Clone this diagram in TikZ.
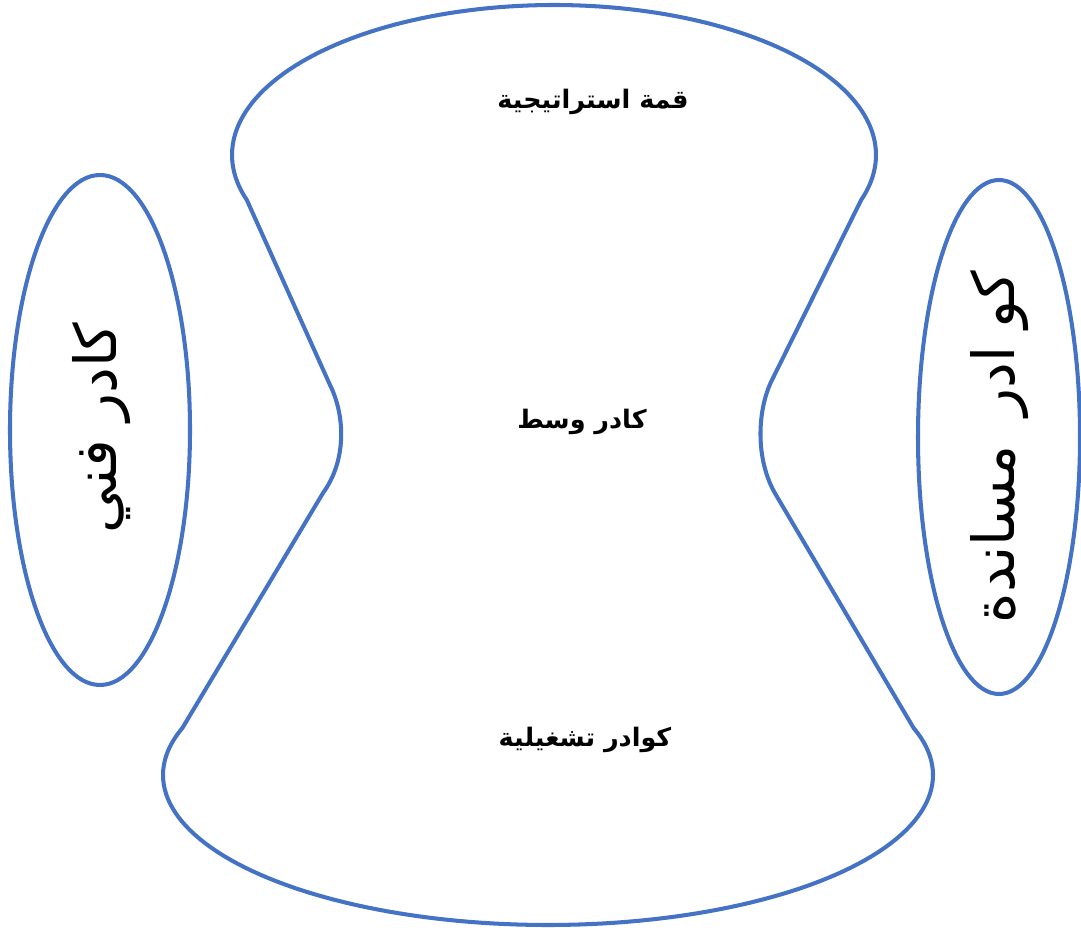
\documentclass[tikz,border=0pt]{standalone}
\usepackage{fontspec}
\TeXXeTstate=1
\newfontfamily\arabicfont[Script=Arabic]{DejaVu Sans}
\definecolor{shapeblue}{RGB}{68,114,196}
\tikzset{
  outline/.style={draw=shapeblue, line width=2.3pt, line join=round},
  midlabel/.style={font=\arabicfont\bfseries\fontsize{14.5}{17}\selectfont, inner sep=0pt},
  sidelabel/.style={font=\arabicfont\fontsize{33}{38}\selectfont, inner sep=0pt, rotate=90}
}
\begin{document}
\begin{tikzpicture}[x=0.02cm, y=-0.02cm]
\useasboundingbox (0,0) rectangle (1081,928);
% hourglass
\coordinate (tl) at (247,200);
\coordinate (tr) at (861,200);
\coordinate (ml1) at (330,385);
\coordinate (ml2) at (323,493);
\coordinate (mr1) at (772,380);
\coordinate (mr2) at (776,495);
\coordinate (bl) at (182,728);
\coordinate (br) at (914,728);
\draw[outline]
  plot[domain=162.54:377.46, samples=120] ({554+322*cos(\x)},{155+150*sin(\x)})
  -- (mr1) .. controls (757,410) and (755,460) .. (mr2)
  -- plot[domain=-18.26:198.26, samples=120] ({548+385*cos(\x)},{775+150*sin(\x)})
  -- (ml2) .. controls (347,460) and (345,415) .. (ml1)
  -- cycle;
% side ellipses
\draw[outline] (100,430) ellipse [x radius=90, y radius=255];
\draw[outline] (999,437) ellipse [x radius=81, y radius=257];
% labels
\node[midlabel] (top) at (593,102) {\beginR قمة استراتيجية\endR};
\node[midlabel] (mid) at (582,422) {\beginR كادر وسط\endR};
\node[midlabel] (bot) at (585,740) {\beginR كوادر تشغيلية\endR};
\node[sidelabel] (left) at (102,428) {\beginR كادر فني\endR};
\node[sidelabel] (right) at (1000,447) {\beginR كو ادر\hspace{0.5em}مساندة\endR};
\end{tikzpicture}
\end{document}
